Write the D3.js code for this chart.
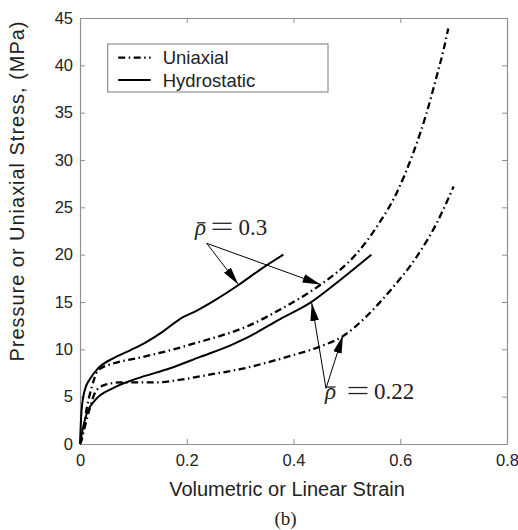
<!DOCTYPE html>
<html>
<head>
<meta charset="utf-8">
<script src="https://cdn.jsdelivr.net/npm/d3@7"></script>
<style>
  html, body { margin: 0; padding: 0; background: #fff; }
  svg { display: block; }
</style>
</head>
<body>
<div id="chart"></div>
<script>
// ---- data ----
const xTicks = [0, 0.2, 0.4, 0.6, 0.8];
const yTicks = [0, 5, 10, 15, 20, 25, 30, 35, 40, 45];

// Hydrostatic, rho = 0.3 (solid, upper)
const strainH030 = [0, 0.003, 0.009, 0.019, 0.034, 0.062, 0.094, 0.125, 0.156, 0.187, 0.219, 0.25, 0.297, 0.337, 0.381];
const stressH030 = [0, 3.6, 5.7, 6.9, 8.0, 9.05, 9.9, 10.8, 11.9, 13.2, 14.1, 15.1, 16.8, 18.4, 20.0];

// Hydrostatic, rho = 0.22 (solid, lower)
const strainH022 = [0, 0.006, 0.0125, 0.028, 0.062, 0.106, 0.169, 0.225, 0.281, 0.312, 0.375, 0.431, 0.487, 0.546];
const stressH022 = [0, 1.8, 3.2, 4.6, 5.9, 6.9, 8.0, 9.2, 10.4, 11.2, 13.2, 14.9, 17.3, 20.0];

// Uniaxial, rho = 0.3 (dash-dot, upper)
const strainU030 = [0, 0.003, 0.012, 0.022, 0.034, 0.062, 0.106, 0.169, 0.225, 0.25, 0.312, 0.375, 0.412, 0.45, 0.518, 0.559, 0.593, 0.624, 0.649, 0.668, 0.681, 0.69];
const stressU030 = [0, 0.4, 3.6, 6.0, 7.8, 8.5, 9.05, 9.9, 10.8, 11.2, 12.4, 14.2, 15.4, 16.8, 20.1, 23.2, 26.5, 30.7, 34.9, 38.8, 41.6, 43.9];

// Uniaxial, rho = 0.22 (dash-dot, lower)
const strainU022 = [0, 0.009, 0.019, 0.028, 0.044, 0.075, 0.137, 0.2, 0.25, 0.3, 0.35, 0.4, 0.45, 0.493, 0.537, 0.581, 0.631, 0.668, 0.7];
const stressU022 = [0, 1.8, 3.9, 5.4, 6.2, 6.5, 6.5, 6.9, 7.4, 7.9, 8.6, 9.4, 10.3, 11.4, 13.5, 16.2, 19.8, 23.3, 27.2];

const legendLabels = ["Uniaxial", "Hydrostatic"];

// annotations (data coordinates)
const annot030 = { label: "0.3", textAt: [0.2155, 22.1], from: [0.2374, 21.2], tips: [[0.2966, 16.85], [0.4506, 16.85]] };
const annot022 = { label: "0.22", textAt: [0.459, 4.75], from: [0.4609, 5.88], tips: [[0.4341, 14.9], [0.4927, 11.48]] };

// ---- layout ----
const W = 518, H = 530;
const margin = { left: 80, top: 18, right: 11, bottom: 86 };
const iw = W - margin.left - margin.right;
const ih = H - margin.top - margin.bottom;
const axisColor = "#8f8f8f";
const textColor = "#222";
const sans = "'Liberation Sans', Arial, Helvetica, sans-serif";
const serif = "'Liberation Serif', 'Times New Roman', serif";

const svg = d3.select("#chart").append("svg").attr("width", W).attr("height", H);
const g = svg.append("g").attr("transform", `translate(${margin.left},${margin.top})`);

const x = d3.scaleLinear().domain([0, 0.8]).range([0, iw]);
const y = d3.scaleLinear().domain([0, 45]).range([ih, 0]);

// axes box with inward ticks
function styleAxis(sel, showLabels) {
  sel.select(".domain").attr("stroke", axisColor).attr("stroke-width", 1.2);
  sel.selectAll(".tick line").attr("stroke", axisColor).attr("stroke-width", 1);
  sel.selectAll(".tick text").attr("fill", textColor).style("font-family", sans).style("font-size", "16.5px");
  if (!showLabels) sel.selectAll(".tick text").remove();
}
const fmtX = d => d === 0 ? "0" : d3.format(".1f")(d);
g.append("g").attr("transform", `translate(0,${ih})`)
  .call(d3.axisBottom(x).tickValues(xTicks).tickFormat(fmtX).tickSizeInner(-5).tickSizeOuter(0).tickPadding(10))
  .call(s => styleAxis(s, true));
g.append("g")
  .call(d3.axisTop(x).tickValues(xTicks).tickSizeInner(-5).tickSizeOuter(0))
  .call(s => styleAxis(s, false));
g.append("g")
  .call(d3.axisLeft(y).tickValues(yTicks).tickFormat(d3.format("d")).tickSizeInner(-5).tickSizeOuter(0).tickPadding(7))
  .call(s => styleAxis(s, true));
g.append("g").attr("transform", `translate(${iw},0)`)
  .call(d3.axisRight(y).tickValues(yTicks).tickSizeInner(-5).tickSizeOuter(0))
  .call(s => styleAxis(s, false));

// curves
const line = d3.line().x(d => x(d[0])).y(d => y(d[1])).curve(d3.curveMonotoneX);
const zip = (a, b) => a.map((v, i) => [v, b[i]]);
const dashDot = "7,3.5,1.5,3.5";
const series = [
  { xs: strainH030, ys: stressH030, dash: null },
  { xs: strainH022, ys: stressH022, dash: null },
  { xs: strainU030, ys: stressU030, dash: dashDot },
  { xs: strainU022, ys: stressU022, dash: dashDot },
];
series.forEach(s => {
  g.append("path")
    .attr("d", line(zip(s.xs, s.ys)))
    .attr("fill", "none")
    .attr("stroke", "#000")
    .attr("stroke-width", s.dash ? 2.3 : 2)
    .attr("stroke-dasharray", s.dash)
    .attr("stroke-linejoin", "round");
});

// arrow marker
svg.append("defs").append("marker")
  .attr("id", "arrow")
  .attr("markerUnits", "userSpaceOnUse")
  .attr("viewBox", "0 -5 19 10")
  .attr("refX", 18).attr("refY", 0)
  .attr("markerWidth", 19).attr("markerHeight", 10)
  .attr("orient", "auto")
  .append("path").attr("d", "M0,-4.3L18,0L0,4.3Z").attr("fill", "#000");

// label part offsets (pixels, relative to the label anchor)
const labelLayout = {
  "0.3": { eqCenter: 27, numStart: 43.5 },
  "0.22": { eqCenter: 33, numStart: 49 }
};

function drawAnnot(a) {
  a.tips.forEach(t => {
    g.append("line")
      .attr("x1", x(a.from[0])).attr("y1", y(a.from[1]))
      .attr("x2", x(t[0])).attr("y2", y(t[1]))
      .attr("stroke", "#000").attr("stroke-width", 1)
      .attr("marker-end", "url(#arrow)");
  });
  const ax = x(a.textAt[0]), ay = y(a.textAt[1]);
  const lay = labelLayout[a.label];
  const grp = g.append("g").attr("fill", textColor).style("font-family", serif).style("font-size", "23px");
  grp.append("text").attr("x", ax).attr("y", ay).style("font-style", "italic").text("\u03C1");
  grp.append("line").attr("x1", ax + 2).attr("x2", ax + 10.5).attr("y1", ay - 12).attr("y2", ay - 12)
    .attr("stroke", textColor).attr("stroke-width", 1.3);
  // "=" sign drawn as two bars
  [11.5, 5.5].forEach(off => {
    grp.append("line")
      .attr("x1", ax + lay.eqCenter - 9.5).attr("x2", ax + lay.eqCenter + 9.5)
      .attr("y1", ay - off).attr("y2", ay - off)
      .attr("stroke", textColor).attr("stroke-width", 1.3);
  });
  grp.append("text").attr("x", ax + lay.numStart).attr("y", ay).text(a.label);
}
drawAnnot(annot030);
drawAnnot(annot022);

// legend
const lg = g.append("g");
const lx0 = 107.7 - margin.left, ly0 = 44 - margin.top;
lg.append("rect").attr("x", lx0).attr("y", ly0).attr("width", 220.3).attr("height", 48)
  .attr("fill", "#fff").attr("stroke", axisColor).attr("stroke-width", 1.2);
legendLabels.forEach((lab, i) => {
  const yy = ly0 + 13.7 + i * 22.3;
  lg.append("line").attr("x1", lx0 + 10.5).attr("x2", lx0 + 43).attr("y1", yy).attr("y2", yy)
    .attr("stroke", "#000").attr("stroke-width", i === 0 ? 2.3 : 2)
    .attr("stroke-dasharray", i === 0 ? dashDot : null);
  lg.append("text").attr("x", lx0 + 55).attr("y", yy + 6.5)
    .attr("fill", textColor).style("font-family", sans).style("font-size", "18.5px").text(lab);
});

// axis labels
svg.append("text").attr("x", 287).attr("y", 496).attr("text-anchor", "middle")
  .attr("fill", textColor).style("font-family", sans).style("font-size", "20px")
  .text("Volumetric or Linear Strain");
svg.append("text").attr("transform", "translate(24,191.5) rotate(-90)").attr("text-anchor", "middle")
  .attr("fill", textColor).style("font-family", sans).style("font-size", "20px")
  .attr("textLength", 340).attr("lengthAdjust", "spacing")
  .text("Pressure or Uniaxial Stress, (MPa)");
svg.append("text").attr("x", 285.5).attr("y", 525).attr("text-anchor", "middle")
  .attr("fill", textColor).style("font-family", serif).style("font-size", "19px")
  .text("(b)");
</script>
</body>
</html>
